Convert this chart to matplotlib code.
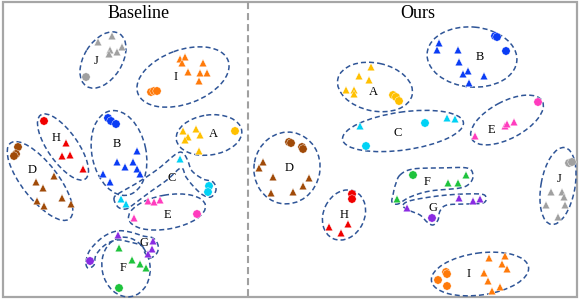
import numpy as np
import matplotlib
matplotlib.use("Agg")
import matplotlib.pyplot as plt
from matplotlib.patches import Ellipse, Rectangle, PathPatch
from matplotlib.path import Path

# ---------------- data (pixel-space embedding coordinates) ----------------
classes = list("ABCDEFGHIJ")
panel_titles = ["Baseline", "Ours"]

# Baseline panel: triangles
base_tri_cls = "AAAAAA" "BBBBBBBB" "CCC" "DDDDDDD" "EEEE" "FFFF" "GGGG" "HHHH" "IIIIIIII" "JJJJJJ"
base_tri_x = [183, 196, 188, 200, 185, 199,
              137, 117, 133, 125, 137, 140, 103, 110,
              180, 121, 126,
              36, 54, 43, 37, 44, 62, 71,
              148, 154, 160, 134,
              119, 132, 140, 146,
              118, 153, 152, 148,
              66, 62, 70, 83,
              180, 185, 182, 203, 188, 200, 207, 199,
              98, 112, 110, 109, 117, 122]
base_tri_y = [131, 129, 137, 135, 140, 151,
              151, 162, 162, 167, 169, 174, 174, 182,
              159, 199, 204,
              182, 176, 188, 201, 206, 198, 204,
              201, 202, 200, 218,
              248, 260, 264, 268,
              235, 241, 249, 254,
              143, 156, 155, 169,
              59, 57, 63, 63, 72, 73, 73, 81,
              42, 36, 50, 54, 52, 47]
# Baseline panel: circles
base_dot_cls = "A" "BBB" "CC" "DDD" "E" "F" "G" "H" "III" "J"
base_dot_x = [235, 108, 111, 116, 209, 208, 18, 16, 14, 197, 119, 90, 44, 151, 154, 157, 86]
base_dot_y = [131, 118, 121, 124, 186, 192, 147, 154, 156, 214, 288, 261, 121, 92, 91, 91, 77]

# Ours panel: triangles
ours_tri_cls = "AAAAAA" "BBBBBBBB" "CCC" "DDDDDDD" "EEEE" "FFFF" "GGGG" "HHH" "IIIIIIII" "JJJJJJ"
ours_tri_x = [371, 359, 369, 346, 354, 354,
              439, 437, 458, 459, 468, 463, 484, 469,
              360, 447, 455,
              263, 259, 273, 309, 303, 293, 271,
              475, 505, 507, 514,
              466, 448, 458, 397,
              407, 459, 473, 480,
              329, 348, 341,
              489, 505, 502, 507, 484, 488, 500, 492,
              551, 562, 564, 546, 565, 558]
ours_tri_y = [67, 76, 80, 90, 90, 94,
              43, 50, 50, 62, 71, 74, 76, 83,
              126, 118, 119,
              162, 168, 177, 178, 186, 192, 193,
              136, 126, 124, 122,
              175, 183, 183, 199,
              208, 198, 201, 199,
              227, 224, 233,
              258, 256, 264, 269, 273, 281, 287, 291,
              192, 192, 197, 205, 205, 217]
# Ours panel: circles
ours_dot_cls = "AAA" "BBB" "CC" "DDDD" "E" "F" "G" "HH" "IIII" "JJ"
ours_dot_x = [393, 396, 399, 495, 497, 506, 425, 366, 289, 291, 302, 303, 538, 413, 432,
              352, 352, 446, 447, 438, 447, 569, 572]
ours_dot_y = [95, 97, 101, 36, 37, 51, 123, 146, 142, 143, 147, 149, 102, 175, 218,
              194, 199, 272, 274, 280, 286, 163, 162]

# ---------------- styling / layout ----------------
colors = {"A": "#FFC000", "B": "#0A3CF5", "C": "#00D2F5", "D": "#A04A08",
          "E": "#FF3CBE", "F": "#1EC33C", "G": "#8A2BE2", "H": "#F00000",
          "I": "#FF7A0A", "J": "#A0A0A0"}
outline_color = "#2F5597"
dash = (0, (3.3, 2.0))

# label positions
base_label_pos = {"A": (213, 134), "B": (117, 144), "C": (172, 178), "D": (32, 170),
                  "E": (167, 215), "F": (123, 268), "G": (144, 243), "H": (56, 138),
                  "I": (176, 77), "J": (96, 61)}
ours_label_pos = {"A": (373, 92), "B": (480, 57), "C": (398, 133), "D": (289, 168),
                  "E": (491, 130), "F": (427, 182), "G": (433, 208), "H": (344, 215),
                  "I": (469, 274), "J": (559, 179)}

# ellipses: center, major, minor, visual angle (deg, ccw on screen)
base_ellipses = [((103, 60), 62, 38, 58), ((183, 77), 96, 54, 20), ((209, 135), 66, 40, 8),
                 ((63, 147), 78, 30, -55), ((119, 153), 86, 54, -78), ((40, 181), 96, 36, -52),
                 ((167, 212), 78, 34, 10), ((126, 267), 60, 48, -80)]
ours_ellipses = [((472, 57), 90, 60, -5), ((375, 87), 76, 48, -12), ((403, 131), 122, 38, 8),
                 ((507, 120), 80, 37, 28), ((287, 168), 72, 66, 80), ((344, 215), 52, 41, 65),
                 ((558, 186), 78, 34, 80), ((480, 274), 98, 42, 8)]

# free-form outlines (closed smooth curves through points)
base_shapes = [
    [(114, 198), (118, 207), (126, 209), (134, 204), (150, 192), (167, 180), (181, 168),
     (186, 177), (194, 187), (203, 195), (211, 197), (216, 190), (213, 182), (203, 179),
     (192, 171), (188, 161), (183, 153), (176, 154), (158, 169), (137, 183), (121, 192)],
    [(86, 262), (90, 250), (103, 237), (117, 231), (130, 232), (143, 236), (153, 238),
     (158, 245), (157, 253), (150, 258), (145, 253), (142, 246), (130, 242), (117, 240),
     (105, 245), (96, 255), (94, 265), (88, 268)],
]
ours_shapes = [
    [(400, 175), (413, 169), (440, 168), (467, 168), (473, 175), (470, 183), (460, 188),
     (430, 191), (410, 197), (398, 204), (392, 202), (393, 195), (395, 186)],
    [(403, 205), (413, 200), (447, 195), (480, 194), (486, 198), (483, 203), (467, 204),
     (447, 205), (440, 211), (438, 220), (433, 225), (427, 222), (420, 215), (408, 210)],
]


def closed_spline(pts, n=16):
    P = np.asarray(pts, float)
    m = len(P)
    out = []
    for i in range(m):
        p0, p1, p2, p3 = P[(i - 1) % m], P[i], P[(i + 1) % m], P[(i + 2) % m]
        for t in np.linspace(0, 1, n, endpoint=False):
            t2, t3 = t * t, t * t * t
            out.append(0.5 * ((2 * p1) + (-p0 + p2) * t +
                              (2 * p0 - 5 * p1 + 4 * p2 - p3) * t2 +
                              (-p0 + 3 * p1 - 3 * p2 + p3) * t3))
    out.append(out[0])
    return np.array(out)


plt.rcParams["font.family"] = ["Liberation Serif", "DejaVu Serif"]
fig = plt.figure(figsize=(5.8, 3.0), dpi=100)
ax = fig.add_axes([0, 0, 1, 1])
ax.set_xlim(0, 580)
ax.set_ylim(300, 0)
ax.axis("off")

# frame and divider
ax.add_patch(Rectangle((2.5, 1.5), 574.5, 295.5, fill=False, ec="#A6A6A6", lw=1.6, zorder=1))
ax.plot([248, 248], [2, 296], color="#A0A0A0", lw=1.5, ls=(0, (3.4, 1.9)), zorder=1)

panels = [
    (base_tri_x, base_tri_y, base_tri_cls, base_dot_x, base_dot_y, base_dot_cls,
     base_label_pos, base_ellipses, base_shapes, 139),
    (ours_tri_x, ours_tri_y, ours_tri_cls, ours_dot_x, ours_dot_y, ours_dot_cls,
     ours_label_pos, ours_ellipses, ours_shapes, 418),
]

for (tx, ty, tc, dx, dy, dc, lpos, ells, shapes, title_x), title in zip(panels, panel_titles):
    for (c, w, h, a) in ells:
        ax.add_patch(Ellipse(c, w, h, angle=-a, fill=False, ec=outline_color,
                             lw=1.1, ls=dash, zorder=2))
    for pts in shapes:
        curve = closed_spline(pts)
        ax.add_patch(PathPatch(Path(curve), fill=False, ec=outline_color,
                               lw=1.1, ls=dash, zorder=2))
    tcol = [colors[k] for k in tc]
    dcol = [colors[k] for k in dc]
    ax.scatter(tx, ty, marker="^", s=30, c=tcol, edgecolors="white", linewidths=0.25, zorder=3)
    ax.scatter(dx, dy, marker="o", s=36, c=dcol, edgecolors="white", linewidths=0.3, zorder=3)
    for k in classes:
        x, y = lpos[k]
        ax.text(x, y, k, ha="center", va="center", fontsize=9, color="black", zorder=4)
    ax.text(title_x, 14, title, ha="center", va="center", fontsize=13, color="black")

fig.savefig("out.png", dpi=100)
